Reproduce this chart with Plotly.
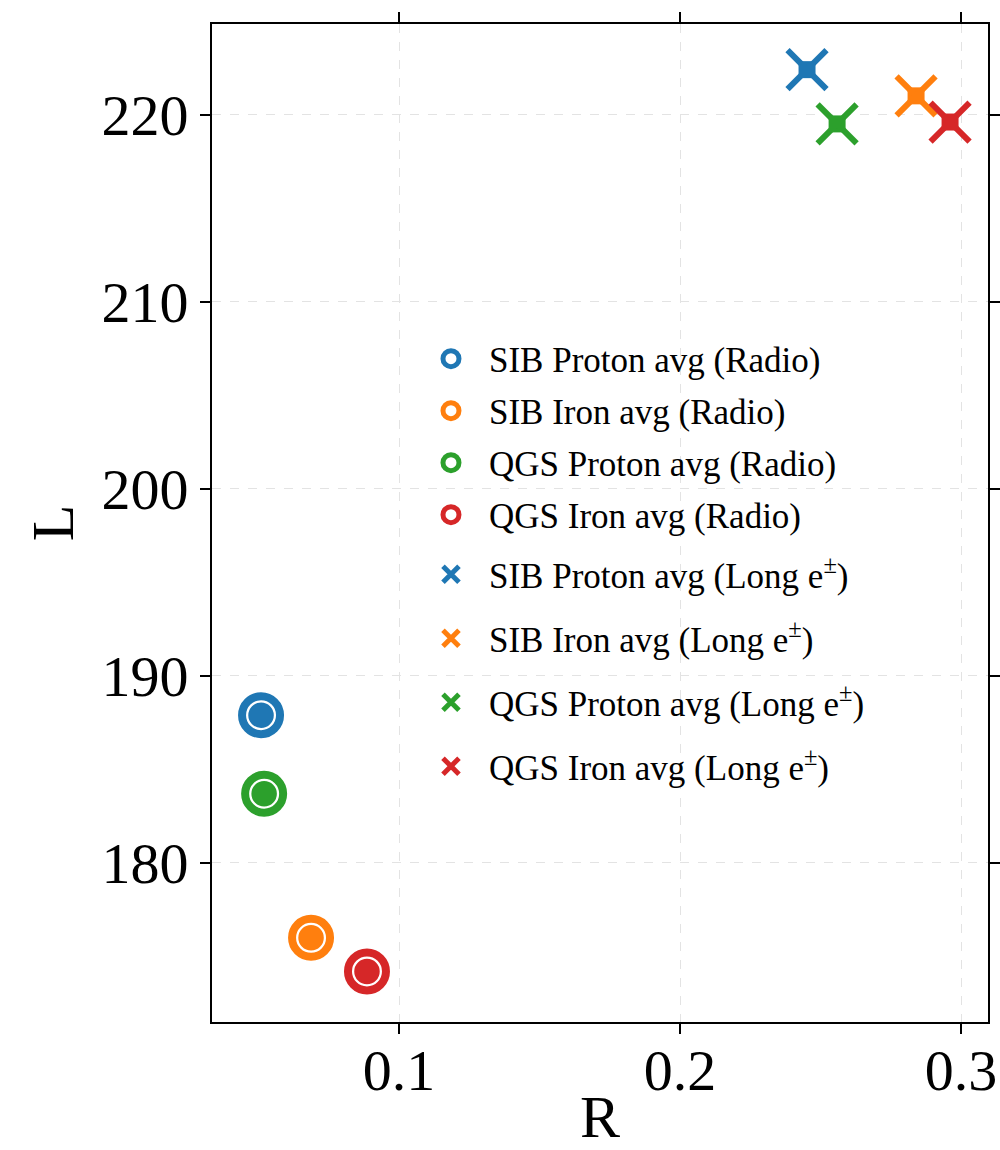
import plotly.graph_objects as go

# ---- data ----
series_names = ["SIB Proton", "SIB Iron", "QGS Proton", "QGS Iron"]
colors = ["#1f77b4", "#ff7f0e", "#2ca02c", "#d62728"]
R_radio = [0.0509, 0.0687, 0.0520, 0.0886]
L_radio = [187.9, 176.0, 183.7, 174.2]
R_long = [0.2452, 0.2840, 0.2559, 0.2961]
L_long = [222.4, 221.0, 219.5, 219.6]
x_ticks = [0.1, 0.2, 0.3]
y_ticks = [180, 190, 200, 210, 220]

FONT = "Liberation Serif, Times New Roman, serif"

fig = go.Figure()

# Radio: inner filled dots
for i, name in enumerate(series_names):
    fig.add_trace(go.Scatter(
        x=[R_radio[i]], y=[L_radio[i]], mode="markers", showlegend=False,
        marker=dict(symbol="circle", size=28, color=colors[i],
                    line=dict(color="white", width=2.5)),
        hoverinfo="skip"))
# Radio: open rings (legend)
for i, name in enumerate(series_names):
    fig.add_trace(go.Scatter(
        x=[R_radio[i]], y=[L_radio[i]], mode="markers",
        name=f"{name} avg (Radio)", legend="legend", legendgroup=f"r{i}",
        marker=dict(symbol="circle-open", size=38, color=colors[i],
                    line=dict(color=colors[i], width=8))))
# Long: centre blobs
for i, name in enumerate(series_names):
    fig.add_trace(go.Scatter(
        x=[R_long[i]], y=[L_long[i]], mode="markers", showlegend=False,
        marker=dict(symbol="square", size=17, color=colors[i],
                    line=dict(width=0)),
        hoverinfo="skip"))
# Long: X markers (legend)
for i, name in enumerate(series_names):
    fig.add_trace(go.Scatter(
        x=[R_long[i]], y=[L_long[i]], mode="markers",
        name=f"{name} avg (Long e<sup>±</sup>)", legend="legend2", legendgroup=f"l{i}",
        marker=dict(symbol="x-thin-open", size=39, color=colors[i],
                    line=dict(color=colors[i], width=6))))

axis_common = dict(
    showline=True, linecolor="black", linewidth=2, mirror="allticks",
    ticks="outside", ticklen=10, tickwidth=1.5, tickcolor="black",
    showgrid=True, gridcolor="#e3e3e3", griddash="dash", gridwidth=1,
    zeroline=False, automargin=False,
    tickfont=dict(family=FONT, size=58, color="black"),
)

fig.update_xaxes(range=[0.03345, 0.3096], tickvals=x_ticks,
                 ticktext=[f"{v:.1f}" for v in x_ticks],
                 ticklabelposition="outside", ticklabelstandoff=-14,
                 title=dict(text="R", font=dict(family=FONT, size=60, color="black"),
                            standoff=30),
                 **axis_common)
fig.update_yaxes(range=[171.50, 224.84], tickvals=y_ticks,
                 ticktext=[str(v) for v in y_ticks],
                 title=dict(text="L", font=dict(family=FONT, size=60, color="black"),
                            standoff=8),
                 **axis_common)

legend_common = dict(
    font=dict(family=FONT, size=35, color="black"),
    bgcolor="rgba(255,255,255,0)", borderwidth=0,
    itemwidth=66, traceorder="grouped", xanchor="left", yanchor="top",
)
fig.update_layout(
    width=1000, height=1150,
    margin=dict(l=212, r=12, t=24, b=128),
    paper_bgcolor="white", plot_bgcolor="white",
    font=dict(family=FONT, color="black"),
    legend=dict(x=0.259, y=0.6940, tracegroupgap=3.5, **legend_common),
    legend2=dict(x=0.259, y=0.4780, tracegroupgap=15.5, **legend_common),
)

fig.write_html("out.html")
